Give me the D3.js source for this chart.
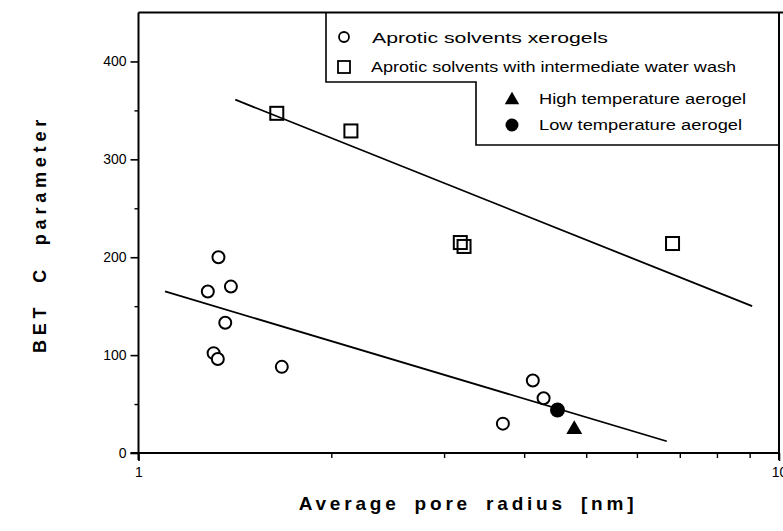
<!DOCTYPE html>
<html>
<head>
<meta charset="utf-8">
<script src="https://cdn.jsdelivr.net/npm/d3@7"></script>
<style>
  html, body { margin: 0; padding: 0; background: #fff; overflow: hidden; }
  svg { display: block; }
  text { font-family: "Liberation Sans", Arial, Helvetica, sans-serif; fill: #000; }
</style>
</head>
<body>
<svg id="chart" width="783" height="531"></svg>
<script>
// ---- data ----
const xerogelX = [1.333, 1.283, 1.394, 1.366, 1.310, 1.330, 1.674, 4.127, 4.29, 3.706];
const xerogelY = [200, 165, 170, 133, 102, 96, 88, 74, 56, 30];
const washX = [1.644, 2.146, 3.18, 3.223, 6.82];
const washY = [347, 329, 215, 211, 214];
const highTempX = [4.79];
const highTempY = [24];
const lowTempX = [4.51];
const lowTempY = [44];
const fitLowerX = [1.10, 6.68];
const fitLowerY = [165, 12];
const fitUpperX = [1.416, 9.08];
const fitUpperY = [361, 150];
const yTickValues = [0, 100, 200, 300, 400];
const yMinorValues = [50, 150, 250, 350];
const xTickValues = [1, 10];
const xMinorValues = [2, 3, 4, 5, 6, 7, 8, 9];
const legendLabels = [
  "Aprotic solvents xerogels",
  "Aprotic solvents with intermediate water wash",
  "High temperature aerogel",
  "Low temperature aerogel"
];

// ---- layout ----
const svg = d3.select("#chart");
const L = 138.5, R = 779, T = 12.5, B = 453;
const x = d3.scaleLog().domain([1, 10]).range([L, R]);
const y = d3.scaleLinear().domain([0, 450]).range([B, T]);

// frame: top and right
svg.append("line").attr("x1", L).attr("x2", 783).attr("y1", T).attr("y2", T)
  .attr("stroke", "#000").attr("stroke-width", 2);
svg.append("line").attr("x1", R).attr("x2", R).attr("y1", T).attr("y2", B + 7)
  .attr("stroke", "#000").attr("stroke-width", 2);

// left axis
const yAxis = svg.append("g").attr("transform", `translate(${L},0)`)
  .call(d3.axisLeft(y).tickValues(yTickValues).tickSize(8).tickPadding(4).tickFormat(d3.format("d")));
yAxis.select(".domain").attr("d", `M0,${T}V${B + 7}`).attr("stroke-width", 2);
yAxis.selectAll(".tick line").attr("stroke-width", 1.6);
yAxis.selectAll(".tick text").style("font-size", "14px").attr("font-family", "Liberation Sans, Arial, sans-serif");
const yMinor = svg.append("g").attr("transform", `translate(${L},0)`)
  .call(d3.axisLeft(y).tickValues(yMinorValues).tickSize(4).tickFormat(""));
yMinor.select(".domain").remove();
yMinor.selectAll(".tick line").attr("stroke-width", 1.4);

// bottom axis
const xAxis = svg.append("g").attr("transform", `translate(0,${B})`)
  .call(d3.axisBottom(x).tickValues(xTickValues).tickSize(8).tickPadding(6).tickFormat(d3.format("d")));
xAxis.select(".domain").attr("d", `M${L - 8},0H${R}`).attr("stroke-width", 2);
xAxis.selectAll(".tick line").attr("stroke-width", 1.6);
xAxis.selectAll(".tick text").style("font-size", "14px").attr("font-family", "Liberation Sans, Arial, sans-serif");
const xMinor = svg.append("g").attr("transform", `translate(0,${B})`)
  .call(d3.axisBottom(x).tickValues(xMinorValues).tickSize(5).tickFormat(""));
xMinor.select(".domain").remove();
xMinor.selectAll(".tick line").attr("stroke-width", 1.4);

// fit lines
const line = d3.line().x(d => x(d[0])).y(d => y(d[1]));
svg.append("path").datum(fitLowerX.map((v, i) => [v, fitLowerY[i]]))
  .attr("d", line).attr("fill", "none").attr("stroke", "#000").attr("stroke-width", 1.8);
svg.append("path").datum(fitUpperX.map((v, i) => [v, fitUpperY[i]]))
  .attr("d", line).attr("fill", "none").attr("stroke", "#000").attr("stroke-width", 1.8);

// markers
const circleSym = d3.symbol().type(d3.symbolCircle).size(Math.PI * 36);
svg.append("g").selectAll("path").data(xerogelX.map((v, i) => [v, xerogelY[i]])).join("path")
  .attr("d", circleSym).attr("transform", d => `translate(${x(d[0])},${y(d[1])})`)
  .attr("fill", "#fff").attr("stroke", "#000").attr("stroke-width", 2);
const sq = 13;
svg.append("g").selectAll("rect").data(washX.map((v, i) => [v, washY[i]])).join("rect")
  .attr("x", d => x(d[0]) - sq / 2).attr("y", d => y(d[1]) - sq / 2)
  .attr("width", sq).attr("height", sq)
  .attr("fill", "none").attr("stroke", "#000").attr("stroke-width", 2);
const triSym = d3.symbol().type(d3.symbolTriangle).size(110);
svg.append("g").selectAll("path").data(highTempX.map((v, i) => [v, highTempY[i]])).join("path")
  .attr("d", triSym).attr("transform", d => `translate(${x(d[0])},${y(d[1])})`).attr("fill", "#000");
const dotSym = d3.symbol().type(d3.symbolCircle).size(Math.PI * 56);
svg.append("g").selectAll("path").data(lowTempX.map((v, i) => [v, lowTempY[i]])).join("path")
  .attr("d", dotSym).attr("transform", d => `translate(${x(d[0])},${y(d[1])})`).attr("fill", "#000");

// legend box (stepped)
const lg = svg.append("g");
lg.append("path")
  .attr("d", `M326,${T}V82H476V145H780`)
  .attr("fill", "none").attr("stroke", "#000").attr("stroke-width", 1.6);
// legend markers
lg.append("circle").attr("cx", 344).attr("cy", 37).attr("r", 5).attr("fill", "#fff")
  .attr("stroke", "#000").attr("stroke-width", 1.8);
lg.append("rect").attr("x", 338).attr("y", 61).attr("width", 12).attr("height", 12)
  .attr("fill", "none").attr("stroke", "#000").attr("stroke-width", 1.8);
lg.append("path").attr("d", d3.symbol().type(d3.symbolTriangle).size(90)).attr("transform", "translate(512,100)")
  .attr("fill", "#000");
lg.append("circle").attr("cx", 512).attr("cy", 125).attr("r", 6.5).attr("fill", "#000");
const legendPos = [[372, 43, 236], [371, 72, 365], [539, 104, 207], [539, 130, 203]];
legendLabels.forEach((t, i) => {
  lg.append("text").attr("x", legendPos[i][0]).attr("y", legendPos[i][1])
    .attr("textLength", legendPos[i][2]).attr("lengthAdjust", "spacingAndGlyphs")
    .style("font-size", "15.5px").text(t);
});

// axis titles
svg.append("text").attr("x", 468).attr("y", 510).attr("text-anchor", "middle")
  .style("font-size", "19px").style("font-weight", "bold")
  .style("letter-spacing", "3.8px").style("word-spacing", "6px")
  .text("Average pore radius [nm]");
svg.append("text").attr("transform", "translate(46,234) rotate(-90)").attr("text-anchor", "middle")
  .style("font-size", "18px").style("font-weight", "bold")
  .style("letter-spacing", "4.8px").style("word-spacing", "10px")
  .text("BET C parameter");
</script>
</body>
</html>
